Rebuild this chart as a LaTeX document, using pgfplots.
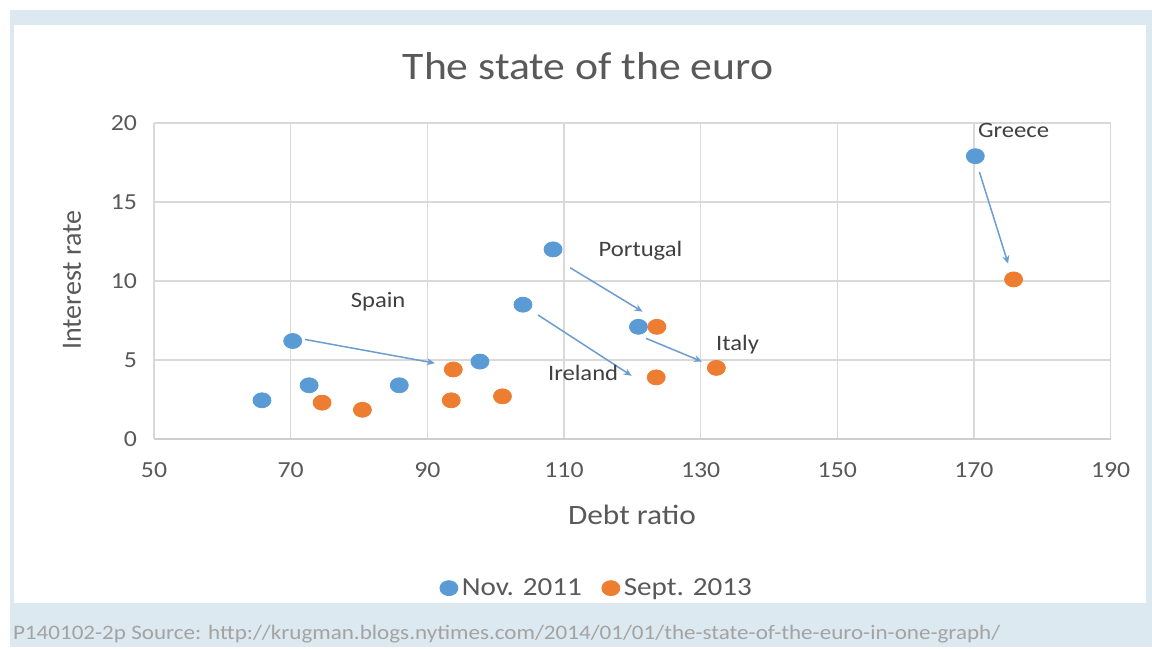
\documentclass[border=0pt]{standalone}
\usepackage{fontspec}
\setmainfont[FakeStretch=1.12]{Carlito}
\newfontfamily\plainfont{Carlito}
\usepackage{pgfplots}
\pgfplotsset{compat=1.18}
\usetikzlibrary{arrows.meta}
\definecolor{bgblue}{HTML}{DCE9F0}
\definecolor{sblue}{HTML}{5B9BD5}
\definecolor{sorange}{HTML}{ED7D31}
\definecolor{txtgray}{HTML}{595959}
\definecolor{lblgray}{HTML}{404040}
\definecolor{gridgray}{HTML}{D9D9D9}
\definecolor{srcgray}{HTML}{A3A3A3}
\definecolor{arrowblue}{HTML}{6C9DCF}
\begin{document}
\begin{tikzpicture}[x=0.5pt,y=0.5pt]
% backgrounds (y measured upward: 647 - pixel row)
\fill[white] (0,0) rectangle (1152,647);
\fill[bgblue] (10,0) rectangle (1152,637);
\fill[white] (14,44) rectangle (1146,622);
\node[text=txtgray,font=\fontsize{19.5}{22}\selectfont] at (588,581) {The state of the euro};
\node[text=srcgray,font=\fontsize{10.3}{12}\selectfont,anchor=west] at (6,13) {P140102-2p Source: http://krugman.blogs.nytimes.com/2014/01/01/the-state-of-the-euro-in-one-graph/};
\begin{axis}[
  at={(77pt,104pt)}, anchor=south west,
  scale only axis, width=478.3pt, height=158pt,
  xmin=50, xmax=190, ymin=0, ymax=20,
  xtick={50,70,...,190}, ytick={0,5,...,20},
  grid=major, major grid style={gridgray, line width=0.6pt},
  axis x line*=bottom, axis y line*=left,
  x axis line style={draw=gridgray!80!black!60, line width=0.7pt},
  y axis line style={draw=gridgray, line width=0.6pt},
  tick style={draw=none},
  /pgf/number format/assume math mode=true,
  ticklabel style={text=txtgray, font=\fontsize{11.5}{13}\selectfont},
  xticklabel style={yshift=-8.5pt},
  yticklabel style={xshift=-5pt},
  xlabel={Debt ratio}, ylabel={Interest rate},
  xlabel style={text=txtgray, font=\fontsize{14}{16}\selectfont,
    at={(axis description cs:0.4997,-0.2405)}, anchor=center},
  ylabel style={text=txtgray, font=\plainfont\fontsize{14}{16}\selectfont,
    at={(axis description cs:-0.0857,0.503)}, anchor=center},
  legend style={at={(0.464,-0.472)}, anchor=center, draw=none, fill=none,
    legend columns=2, font=\fontsize{13}{15}\selectfont, text=txtgray,
    /tikz/every even column/.append style={column sep=8pt}},
  legend cell align=left,
  clip=false,
]
\addplot[only marks, mark=*, mark size=3.75pt, mark options={xscale=1.2, fill=sblue, draw=sblue}]
  coordinates {(65.8,2.45) (70.3,6.2) (72.7,3.4) (85.9,3.4) (97.7,4.9) (104.0,8.5) (108.4,12.0) (120.9,7.1) (170.2,17.9)};
\addlegendentry{Nov. 2011}
\addplot[only marks, mark=*, mark size=3.75pt, mark options={xscale=1.2, fill=sorange, draw=sorange}]
  coordinates {(74.6,2.3) (80.5,1.85) (93.8,4.4) (93.5,2.45) (101.0,2.7) (123.5,3.9) (123.6,7.1) (132.3,4.5) (175.8,10.1)};
\addlegendentry{Sept. 2013}
% arrows
\addplot[arrowblue, line width=0.75pt, -{Stealth[length=4pt,width=3.5pt]}, forget plot] coordinates {(72.1,6.3) (91.1,4.8)};
\addplot[arrowblue, line width=0.75pt, -{Stealth[length=4pt,width=3.5pt]}, forget plot] coordinates {(106.2,7.85) (119.9,4.0)};
\addplot[arrowblue, line width=0.75pt, -{Stealth[length=4pt,width=3.5pt]}, forget plot] coordinates {(110.9,10.84) (121.5,8.06)};
\addplot[arrowblue, line width=0.75pt, -{Stealth[length=4pt,width=3.5pt]}, forget plot] coordinates {(122.0,6.37) (130.2,4.9)};
\addplot[arrowblue, line width=0.75pt, -{Stealth[length=4pt,width=3.5pt]}, forget plot] coordinates {(170.8,16.9) (175.0,11.1)};
% labels
\node[text=lblgray, font=\fontsize{11}{13}\selectfont] at (axis cs:175.8,19.5) {Greece};
\node[text=lblgray, font=\fontsize{11}{13}\selectfont] at (axis cs:121.2,11.9) {Portugal};
\node[text=lblgray, font=\fontsize{11}{13}\selectfont] at (axis cs:82.8,8.7) {Spain};
\node[text=lblgray, font=\fontsize{11}{13}\selectfont] at (axis cs:112.8,4.2) {Ireland};
\node[text=lblgray, font=\fontsize{11}{13}\selectfont] at (axis cs:135.4,5.95) {Italy};
\end{axis}
\end{tikzpicture}
\end{document}
